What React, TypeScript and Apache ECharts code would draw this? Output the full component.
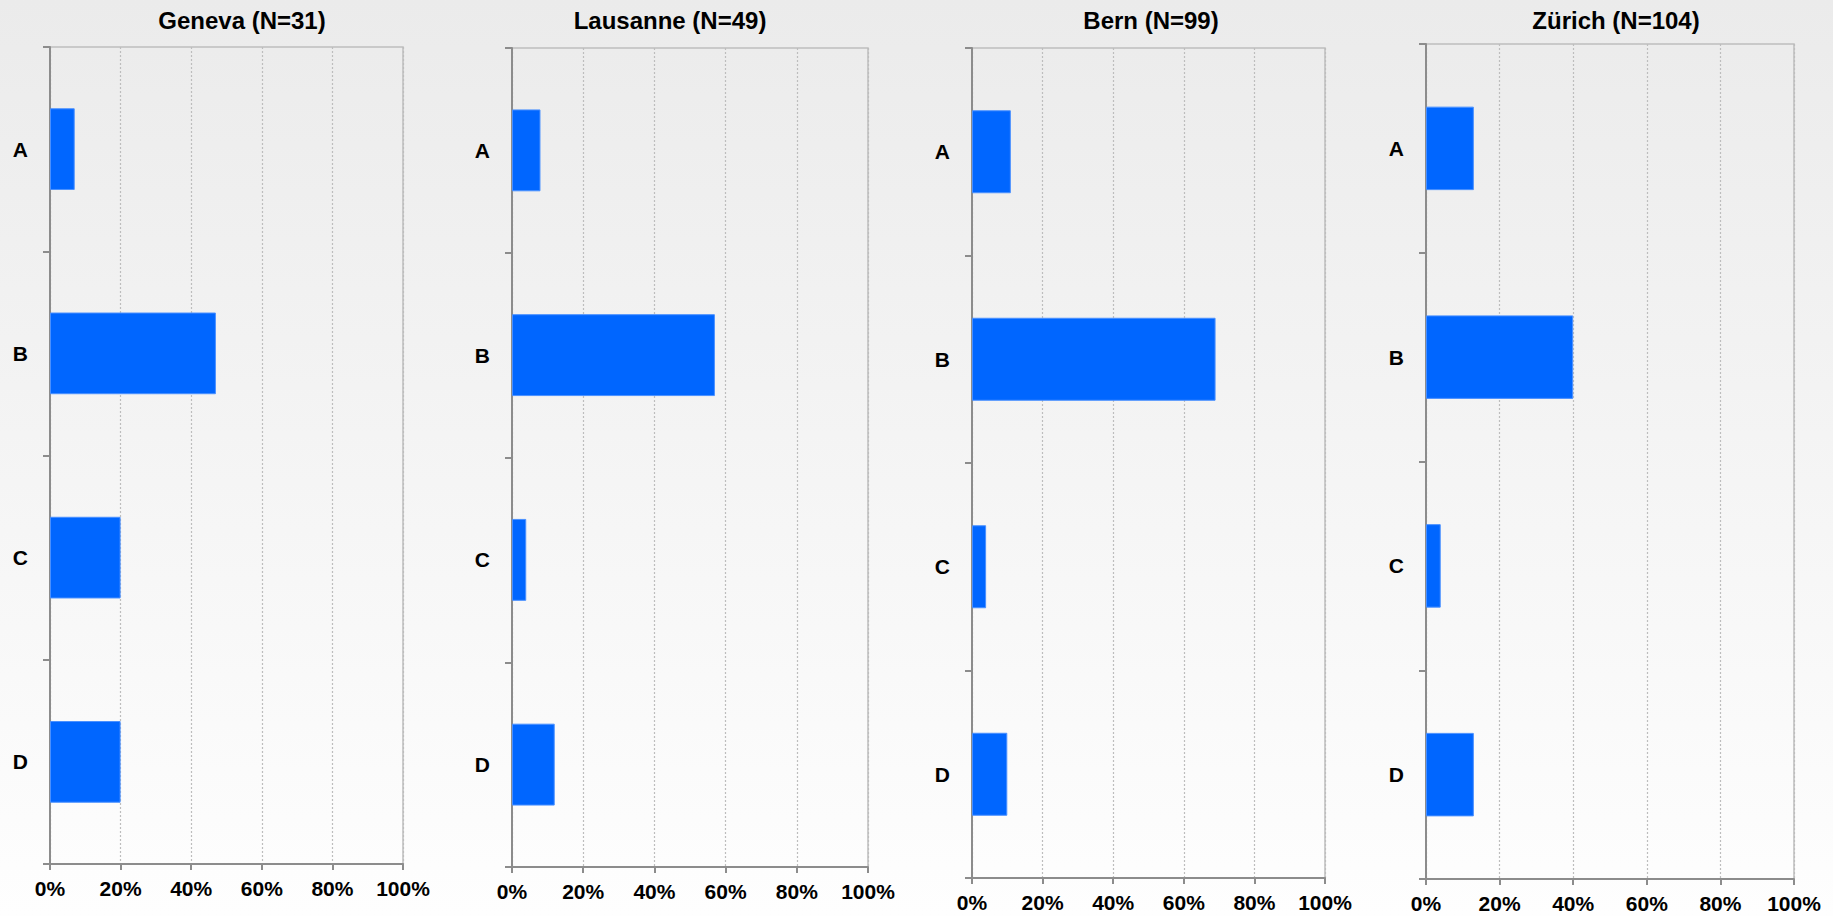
import React, { useEffect, useRef } from "react";
import * as echarts from "echarts";

const categories = ["A", "B", "C", "D"];
const xTicks = [0, 20, 40, 60, 80, 100];
const panelTitles = ["Geneva (N=31)", "Lausanne (N=49)", "Bern (N=99)", "Zürich (N=104)"];
const genevaValues = [7, 47, 20, 20];
const lausanneValues = [8, 57, 4, 12];
const bernValues = [11, 69, 4, 10];
const zurichValues = [13, 40, 4, 13];
const panelValues = [genevaValues, lausanneValues, bernValues, zurichValues];

const grids = [
  { left: 50, top: 47, width: 353, height: 817 },
  { left: 512, top: 48, width: 356, height: 819 },
  { left: 972, top: 48, width: 353, height: 830 },
  { left: 1426, top: 44, width: 368, height: 835 },
];
const titleCenters = [242, 670, 1151, 1616];

const FONT = "'Liberation Sans', Arial, Helvetica, sans-serif";

export default function App() {
  const ref = useRef<HTMLDivElement>(null);
  useEffect(() => {
    if (!ref.current) return;
    const chart = echarts.init(ref.current, null, { renderer: "svg" });
    const option: any = {
      animation: false,
      backgroundColor: new echarts.graphic.LinearGradient(0, 0, 0, 1, [
        { offset: 0, color: "#ebebeb" },
        { offset: 1, color: "#fefefe" },
      ]),
      title: panelTitles.map((t, i) => ({
        text: t,
        left: titleCenters[i],
        top: 8,
        textAlign: "center",
        padding: 0,
        textStyle: { fontFamily: FONT, fontWeight: "bold", fontSize: 24, color: "#000" },
      })),
      grid: grids.map((g) => ({
        ...g,
        containLabel: false,
        show: true,
        borderColor: "#bdbdbd",
        borderWidth: 1.5,
        backgroundColor: "transparent",
      })),
      xAxis: grids.map((_, i) => ({
        type: "value",
        gridIndex: i,
        min: 0,
        max: 100,
        interval: 20,
        axisLine: { show: true, onZero: false, lineStyle: { color: "#8c8c8c", width: 2 } },
        axisTick: { show: true, length: 6, lineStyle: { color: "#8c8c8c", width: 2 } },
        axisLabel: {
          formatter: (v: number) => (xTicks.includes(v) ? v + "%" : ""),
          margin: 14,
          fontFamily: FONT,
          fontWeight: "bold",
          fontSize: 21,
          color: "#000",
        },
        splitLine: { show: true, lineStyle: { color: "#bdbdbd", type: [2, 2], width: 1.2 } },
      })),
      yAxis: grids.map((_, i) => ({
        type: "category",
        gridIndex: i,
        data: categories,
        inverse: true,
        axisLine: { show: true, lineStyle: { color: "#8c8c8c", width: 2 } },
        axisTick: { show: true, length: 7, alignWithLabel: false, lineStyle: { color: "#8c8c8c", width: 2 } },
        axisLabel: {
          margin: 22,
          fontFamily: FONT,
          fontWeight: "bold",
          fontSize: 21,
          color: "#000",
        },
        splitLine: { show: false },
      })),
      series: panelValues.map((vals, i) => ({
        type: "bar",
        xAxisIndex: i,
        yAxisIndex: i,
        data: vals,
        barWidth: "40%",
        itemStyle: { color: "#0066ff", borderColor: "#4a90ff", borderWidth: 1 },
      })),
    };
    chart.setOption(option);
    return () => chart.dispose();
  }, []);
  return (
    <div
      ref={ref}
      style={{ position: "fixed", left: 0, top: 0, width: 1833, height: 916 }}
    />
  );
}
